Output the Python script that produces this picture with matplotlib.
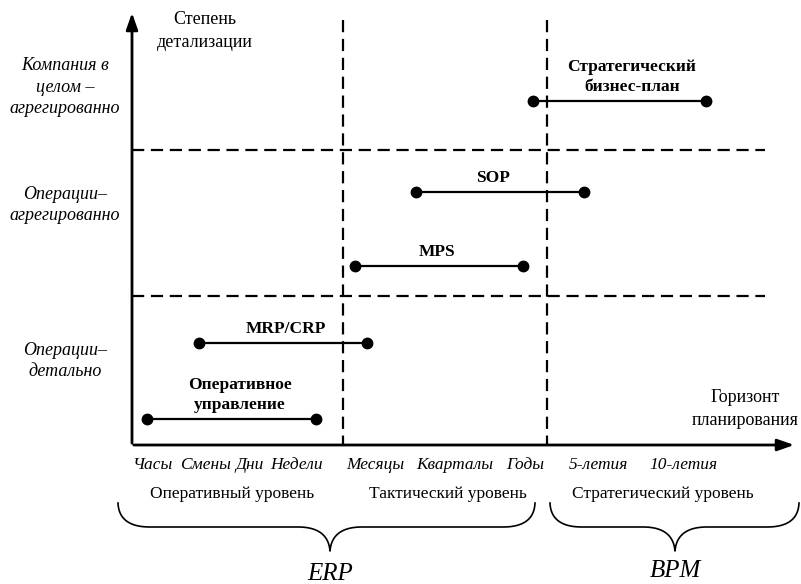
import numpy as np
import matplotlib
matplotlib.use("Agg")
import matplotlib.pyplot as plt

plt.rcParams['font.family'] = ['Liberation Serif', 'DejaVu Serif']

# ---- data (pixel-like units: x to the right, y downward)
horizon_labels = ["Часы", "Смены", "Дни", "Недели", "Месяцы", "Кварталы", "Годы", "5-летия", "10-летия"]
horizon_pos = [152, 205, 250, 297, 375, 455, 525, 598, 683]

level_names = ["Оперативный уровень", "Тактический уровень", "Стратегический уровень"]
level_pos = [232, 448, 663]

detail_names = ["Компания в\nцелом –\nагрегированно", "Операции–\nагрегированно", "Операции–\nдетально"]
detail_pos = [87, 205, 361]

plan_names = ["Оперативное\nуправление", "MRP/CRP", "MPS", "SOP", "Стратегический\nбизнес-план"]
plan_start = [147, 199, 355, 416, 533]
plan_end = [316, 367, 523, 584, 706]
plan_level = [419, 343, 266, 192, 101]
plan_label_x = [240, 286, 437, 493, 632]

zone_bounds_x = [343, 547]
zone_bounds_y = [150, 296]

fig = plt.figure(figsize=(8.01, 5.84), dpi=100)
ax = fig.add_axes([0, 0, 1, 1])
ax.set_xlim(0, 801)
ax.set_ylim(584, 0)
ax.axis('off')

x0, y0 = 132, 445
# axes with arrows
ax.annotate("", xy=(x0, 10), xytext=(x0, y0 + 1),
            arrowprops=dict(arrowstyle="-|>,head_length=1.0,head_width=0.35", lw=2, color='black'))
ax.annotate("", xy=(797, y0), xytext=(x0 - 1, y0),
            arrowprops=dict(arrowstyle="-|>,head_length=1.0,head_width=0.35", lw=2, color='black'))

# dashed zone borders
for xb in zone_bounds_x:
    ax.plot([xb, xb], [20, y0], color='black', lw=1.6, ls=(0, (5.5, 3)))
for yb in zone_bounds_y:
    ax.plot([x0, 765], [yb, yb], color='black', lw=1.6, ls=(0, (5.5, 3)))

# planning segments
for name, s, e, yl, lx in zip(plan_names, plan_start, plan_end, plan_level, plan_label_x):
    ax.plot([s, e], [yl, yl], color='black', lw=1.6, marker='o', ms=7.5)
    ax.text(lx, yl - 6, name, ha='center', va='bottom',
            fontsize=12.5, fontweight='bold', linespacing=1.35)

# texts on axes
ax.text(205, 31, "Степень\nдетализации", ha='center', va='center', fontsize=13, linespacing=1.4)
ax.text(745, 409, "Горизонт\nпланирования", ha='center', va='center', fontsize=13, linespacing=1.4)

for name, yp in zip(detail_names, detail_pos):
    ax.text(65, yp, name, ha='center', va='center', fontsize=13, style='italic', linespacing=1.35)

for name, xp in zip(horizon_labels, horizon_pos):
    ax.text(xp, 465, name, ha='center', va='center', fontsize=12.5, style='italic')

for name, xp in zip(level_names, level_pos):
    ax.text(xp, 494, name, ha='center', va='center', fontsize=12.5)


def qbez(p0, p1, p2, n=30):
    t = np.linspace(0, 1, n)[:, None]
    p0, p1, p2 = map(np.array, (p0, p1, p2))
    return (1 - t) ** 2 * p0 + 2 * (1 - t) * t * p1 + t ** 2 * p2


def brace(xl, xr, xm, top=503, mid=527, tip=551):
    parts = [qbez((xl, top), (xl + 1, mid), (xl + 32, mid)),
             np.array([(xl + 32, mid), (xm - 32, mid)]),
             qbez((xm - 32, mid), (xm - 2, mid), (xm, tip)),
             qbez((xm, tip), (xm + 2, mid), (xm + 32, mid)),
             np.array([(xm + 32, mid), (xr - 32, mid)]),
             qbez((xr - 32, mid), (xr - 1, mid), (xr, top))]
    pts = np.vstack(parts)
    ax.plot(pts[:, 0], pts[:, 1], color='black', lw=1.2)


brace(118, 535, 330)
brace(550, 799, 675)
ax.text(330, 574, "ERP", ha='center', va='center', fontsize=18, style='italic')
ax.text(675, 571, "BPM", ha='center', va='center', fontsize=18, style='italic')

fig.savefig("out.png", dpi=100)
